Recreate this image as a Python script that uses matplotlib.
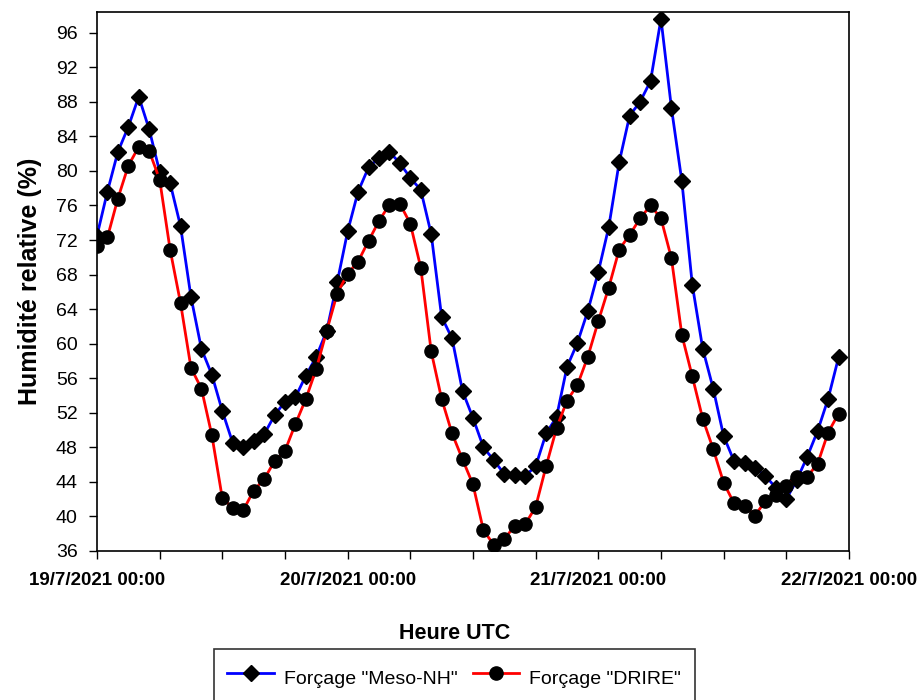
import numpy as np
import pandas as pd
import matplotlib
matplotlib.use('Agg')
import matplotlib.pyplot as plt

plt.rcParams['font.family'] = ['Liberation Sans', 'DejaVu Sans']

#%% data (hourly, 19/7/2021 00:00 -> 21/7/2021 23:00)
heures = pd.date_range('2021-07-19 00:00', periods=72, freq='h')

meso_nh = [72.5, 77.6, 82.2, 85.1, 88.6, 84.8, 79.9, 78.6, 73.6, 65.4, 59.4, 56.4,
           52.2, 48.5, 48.0, 48.7, 49.5, 51.7, 53.3, 53.8, 56.3, 58.5, 61.5, 67.1,
           73.0, 77.6, 80.4, 81.5, 82.2, 80.9, 79.2, 77.8, 72.7, 63.1, 60.6, 54.5,
           51.4, 48.0, 46.5, 44.9, 44.8, 44.7, 45.8, 49.6, 51.5, 57.3, 60.1, 63.8,
           68.3, 73.5, 81.0, 86.4, 88.0, 90.4, 97.6, 87.3, 78.8, 66.8, 59.4, 54.8,
           49.3, 46.4, 46.2, 45.6, 44.7, 43.3, 42.0, 44.2, 46.9, 49.9, 53.6, 58.4]

drire = [71.3, 72.3, 76.8, 80.6, 82.8, 82.3, 79.0, 70.9, 64.7, 57.2, 54.8, 49.4,
         42.1, 41.0, 40.7, 43.0, 44.3, 46.4, 47.6, 50.7, 53.6, 57.1, 61.5, 65.8,
         68.1, 69.5, 71.9, 74.2, 76.1, 76.2, 73.9, 68.8, 59.1, 53.6, 49.6, 46.6,
         43.7, 38.4, 36.7, 37.4, 38.9, 39.1, 41.1, 45.8, 50.2, 53.4, 55.2, 58.5,
         62.6, 66.5, 70.9, 72.6, 74.5, 76.0, 74.5, 69.9, 61.0, 56.2, 51.3, 47.8,
         43.9, 41.5, 41.2, 40.1, 41.8, 42.5, 43.5, 44.6, 44.6, 46.1, 49.7, 51.9]

jours = pd.date_range('2021-07-19', periods=4, freq='D')
jours_labels = ['19/7/2021 00:00', '20/7/2021 00:00', '21/7/2021 00:00', '22/7/2021 00:00']
y_ticks = list(range(36, 97, 4))

#%% figure
fig = plt.figure(figsize=(9.21, 7), dpi=100)
ax = fig.add_axes([0.1053, 0.2129, 0.8165, 0.77])

ax.plot(heures, meso_nh, color='blue', lw=2, marker='D', ms=8.5,
        mfc='black', mec='black', label='Forçage "Meso-NH"')
ax.plot(heures, drire, color='red', lw=2, marker='o', ms=9.5,
        mfc='black', mec='black', label='Forçage "DRIRE"')

ax.set_xlim(jours[0], jours[-1])
ax.set_ylim(36, 98.4)

ax.set_xticks(jours)
ax.set_xticklabels(jours_labels, fontsize=13.5, fontweight='bold')
ax.set_xticks(pd.date_range('2021-07-19 06:00', '2021-07-21 18:00', freq='6h'), minor=True)
ax.set_yticks(y_ticks)
ax.set_yticklabels([str(v) for v in y_ticks], fontsize=14)

ax.tick_params(axis='both', which='both', direction='out', length=6, width=1)
ax.tick_params(axis='x', which='major', pad=9)
ax.tick_params(axis='y', pad=8)
for s in ax.spines.values():
    s.set_linewidth(1.2)

ax.set_ylabel('Humidité relative (%)', fontsize=18, fontweight='bold', labelpad=10)
ax.set_xlabel('Heure UTC', fontsize=15.5, fontweight='bold')
ax.xaxis.set_label_coords(0.475, -0.133)

leg = fig.legend(loc='upper center', bbox_to_anchor=(0.493, 0.073), ncol=2,
                 fontsize=14, frameon=True, fancybox=False, edgecolor='black',
                 handlelength=2.4, handletextpad=0.5, columnspacing=0.8,
                 borderpad=0.7, handleheight=2.0, borderaxespad=0)
leg.get_frame().set_linewidth(1.2)

fig.savefig('out.png', dpi=100)
